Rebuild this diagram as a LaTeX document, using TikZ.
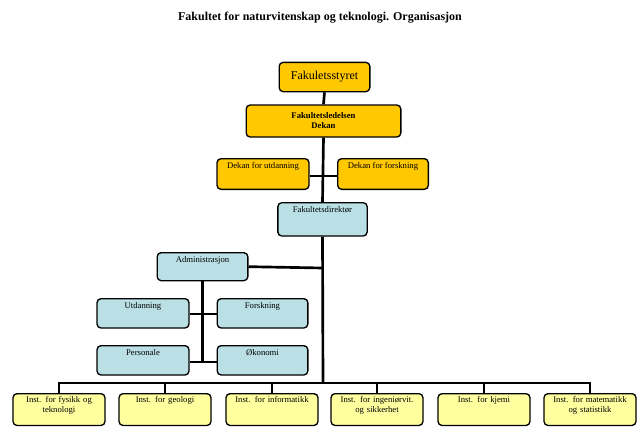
\documentclass[tikz,border=0pt]{standalone}
\usepackage{fontspec}
\setmainfont{Liberation Serif}
\begin{document}
\begin{tikzpicture}[x=0.75pt,y=-0.75pt,
 bx/.style={draw=black,line width=1pt,rounded corners=3pt,font=\fontsize{6.5}{7.5}\selectfont,align=center,anchor=north,inner sep=2pt},
 gold/.style={bx,fill={rgb,255:red,255;green,200;blue,0}},
 blue/.style={bx,fill={rgb,255:red,186;green,224;blue,230}},
 top/.style={text height=5pt,text depth=#1},
 yel/.style={bx,fill={rgb,255:red,255;green,255;blue,160},minimum width=69pt,text width=64pt},
 ln/.style={line width=2pt}]
\useasboundingbox (0,0) rectangle (640,430);
\node[font=\bfseries\small] (t) at (320,18) {Fakultet for naturvitenskap og teknologi. Organisasjon};
\node[gold,minimum width=68pt,minimum height=22pt,font=\fontsize{9}{10}\selectfont,anchor=center] (fs) at (324.5,77) {Fakuletsstyret};
\node[gold,minimum width=116pt,minimum height=24pt,font=\bfseries\fontsize{6.5}{7.5}\selectfont,anchor=center] (fl) at (323.5,121) {Fakultetsledelsen\\Dekan};
\node[gold,minimum width=69pt,top=14pt] (du) at (263,158) {Dekan for utdanning};
\node[gold,minimum width=68pt,top=14pt] (df) at (383,158) {Dekan for forskning};
\node[blue,minimum width=67pt,top=16pt] (fd) at (322.5,202) {Fakultetsdirektør};
\node[blue,minimum width=68pt,top=12pt] (ad) at (202.5,252) {Administrasjon};
\node[blue,minimum width=69pt,top=13pt] (ut) at (143,298) {Utdanning};
\node[blue,minimum width=68pt,top=13pt] (fo) at (262.5,298) {Forskning};
\node[blue,minimum width=69pt,top=13pt] (pe) at (143,345) {Personale};
\node[blue,minimum width=68pt,top=13pt] (ok) at (262.5,345) {Økonomi};
\foreach \n/\x/\t in {i1/59/{Inst. for fysikk  og\\teknologi},i2/165/{Inst. for geologi\\\strut},i3/272/{Inst. for informatikk\\\strut},i4/377/{Inst. for ingeniørvit.\\og sikkerhet},i5/484/{Inst. for kjemi\\\strut},i6/590/{Inst. for matematikk\\og statistikk}}
  \node[yel] (\n) at (\x,393) {\t\\[-2pt]\strut};
\coordinate (bar) at (323,383);
\draw[ln] (fs.south) -- (fl.north);
\draw[ln] (fl.south) -- (fd.north);
\draw[ln] (fd.south) -- (bar);
\draw[ln] (du.east|-0,176) -- (df.west|-0,176);
\draw[ln] (ad.east) -- (323,268);
\draw[ln] (ad.south) -- (202.5,362);
\draw[ln] (ut.east|-0,314) -- (fo.west|-0,314);
\draw[ln] (pe.east|-0,362) -- (ok.west|-0,362);
\draw[ln] (i1.north) |- (bar) -| (i6.north);
\foreach \n in {i2,i3,i4,i5} \draw[ln] (\n.north) -- (\n.north|-bar);
\end{tikzpicture}
\end{document}
